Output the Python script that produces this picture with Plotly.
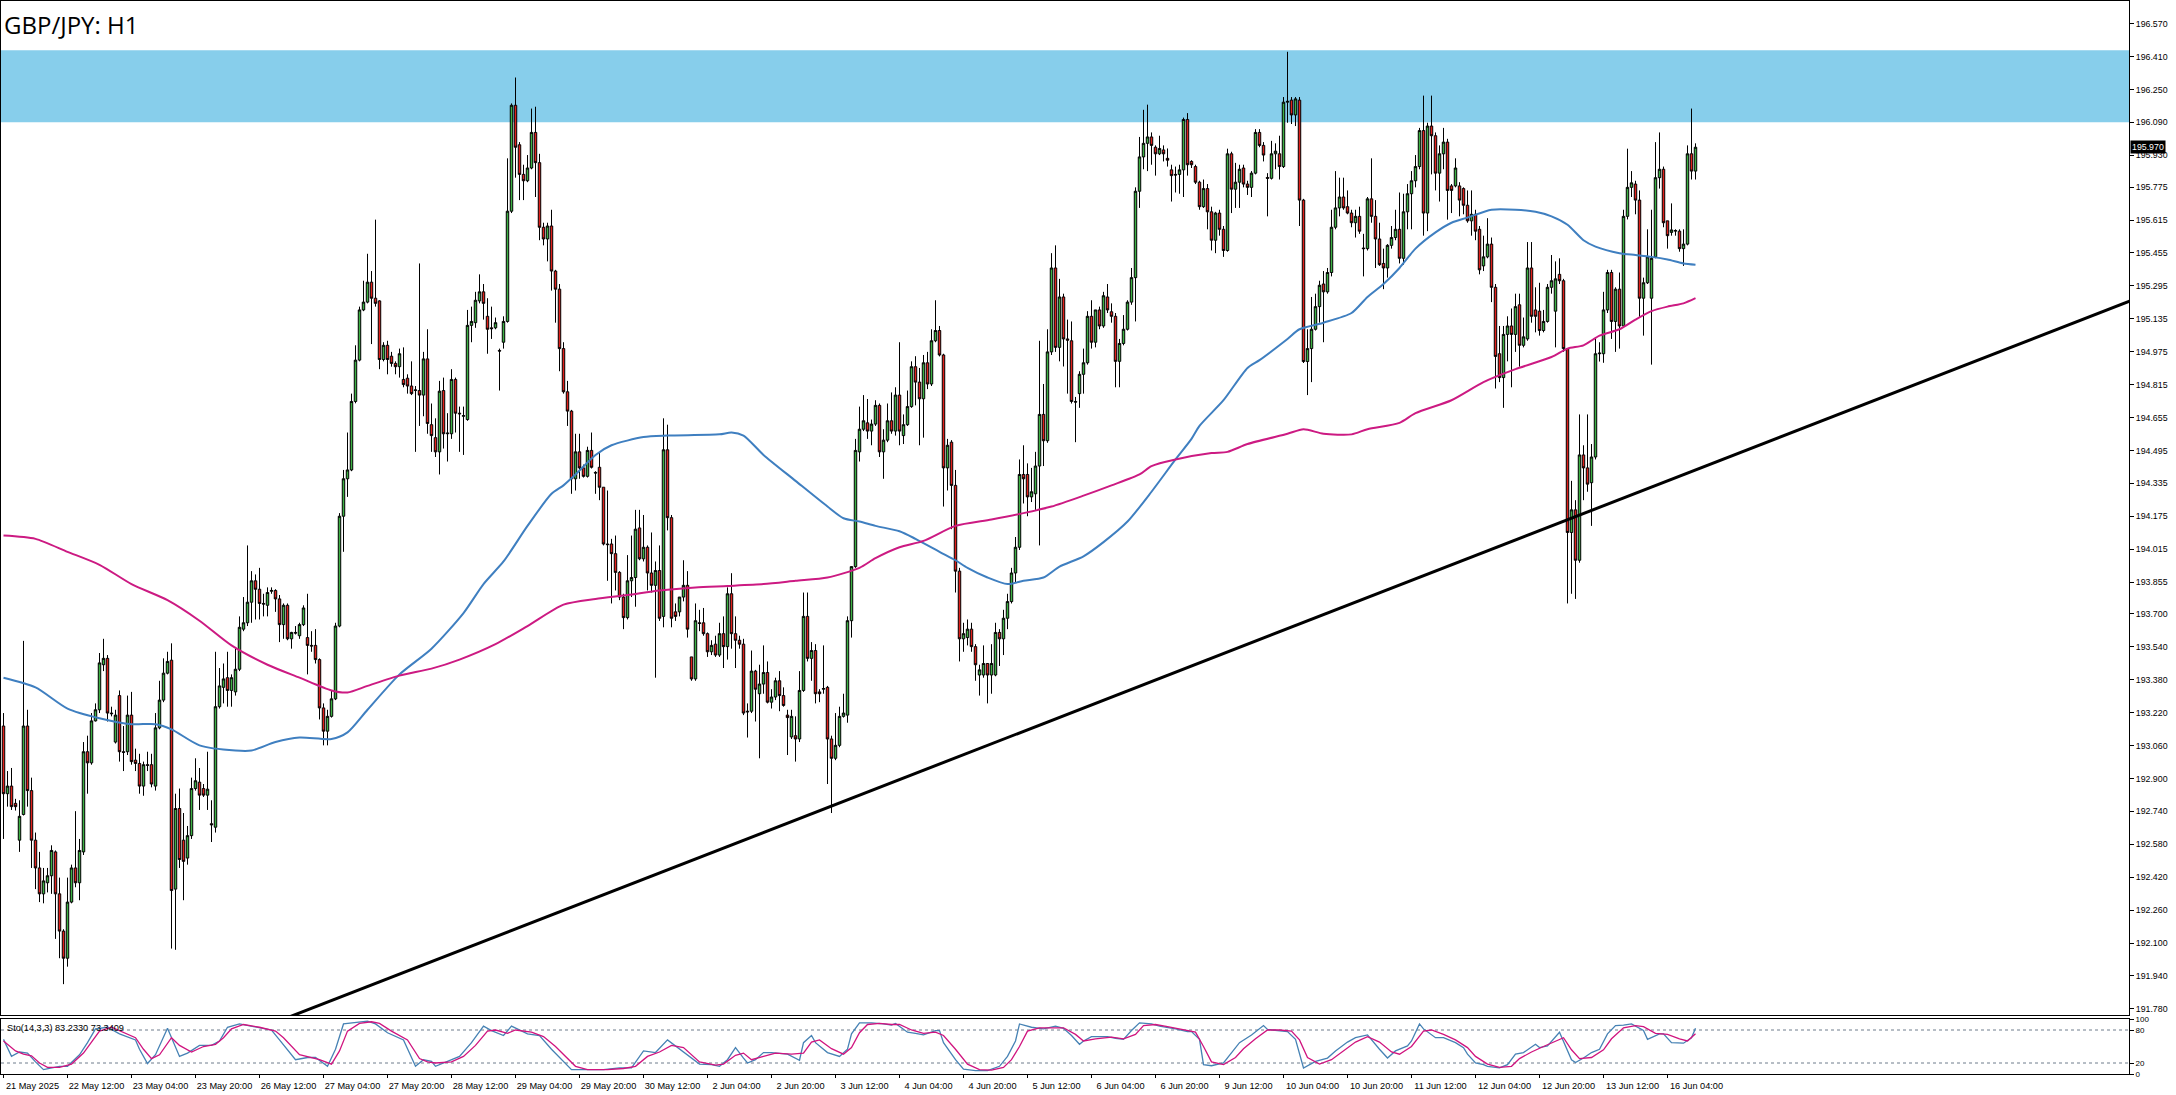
import plotly.graph_objects as go

# ---------------- DATA (GBP/JPY H1, bar index 0 = 21 May 2025 20:00) ----------------
open_prices = [
    193.155, 192.826, 192.863, 192.779, 192.600, 192.725, 193.155, 192.841, 192.600, 192.465,
    192.339, 192.393, 192.427, 192.543, 192.339, 192.158, 192.026, 192.299, 192.465, 192.393,
    192.543, 193.030, 192.976, 193.180, 193.234, 193.453, 193.484, 193.218, 193.077, 193.303,
    193.030, 193.030, 193.208, 192.989, 192.973, 192.863, 192.967, 192.967, 192.863, 193.146,
    193.281, 193.412, 193.475, 192.362, 192.754, 192.600, 192.513, 192.622, 192.851, 192.882,
    192.851, 192.819, 192.680, 192.663, 193.249, 193.343, 193.390, 193.328, 193.321, 193.431,
    193.626, 193.657, 193.757, 193.861, 193.820, 193.751, 193.742, 193.810, 193.814, 193.773,
    193.648, 193.742, 193.579, 193.610, 193.594, 193.648, 193.585, 193.547, 193.547, 193.478,
    193.243, 193.130, 193.202, 193.287, 193.641, 194.175, 194.357, 194.400, 194.733, 194.934,
    195.178, 195.216, 195.313, 195.235, 195.222, 194.937, 195.006, 194.953, 194.918, 194.902,
    194.840, 194.846, 194.808, 194.786, 194.786, 194.764, 194.940,
    194.620, 194.557, 194.488, 194.786, 194.576, 194.576, 194.840, 194.676, 194.661, 194.645,
    195.103, 195.116, 195.222, 195.266, 195.147, 195.091, 195.091, 194.981, 195.021, 195.122,
    195.658, 196.173, 195.981, 195.837, 195.806, 195.868, 196.041, 195.894, 195.580, 195.523,
    195.586, 195.367, 195.279, 194.990, 194.780, 194.686, 194.357, 194.488, 194.410, 194.369,
    194.495, 194.388, 194.413, 194.316, 194.040, 194.040, 193.993, 193.902, 193.782, 193.682,
    193.861, 193.877, 194.118, 193.968, 194.024, 193.899, 193.839, 193.911, 193.688, 194.498,
    194.168, 193.710, 193.710, 193.782, 193.839, 193.491, 193.384, 193.657, 193.657, 193.604,
    193.516, 193.553, 193.500, 193.604, 193.541, 193.798, 193.604, 193.572, 193.553, 193.227,
    193.227, 193.422, 193.312, 193.359, 193.415, 193.271, 193.296, 193.375, 193.303, 193.208,
    193.102, 193.108, 193.092, 193.328, 193.688, 193.484, 193.522, 193.321, 193.334, 193.343,
    193.092, 192.998, 193.061, 193.202, 193.208, 193.667, 193.930,
    194.488, 194.598, 194.629, 194.589, 194.623, 194.714, 194.488, 194.545, 194.639, 194.589,
    194.764, 194.567, 194.620, 194.708, 194.902, 194.827, 194.746, 194.921, 194.818, 195.028,
    195.078, 194.959, 194.410, 194.535, 194.325, 193.908, 193.579, 193.585, 193.626, 193.541,
    193.403, 193.403, 193.459, 193.403, 193.403, 193.610, 193.579, 193.679, 193.760, 193.899,
    194.024, 194.378, 194.378, 194.269, 194.284, 194.419, 194.670, 194.542, 194.974, 195.382,
    194.996, 195.241, 195.037, 195.028, 194.733, 194.771, 194.865, 194.921, 195.147, 195.021,
    195.178, 195.100, 195.241, 195.169, 195.147, 194.928, 195.015, 195.084, 195.216, 195.335,
    195.755, 195.922, 195.988, 196.019, 195.969, 195.937, 195.956, 195.915, 195.859, 195.837,
    195.837, 195.859, 196.104, 195.900, 195.875, 195.799, 195.680, 195.768, 195.655, 195.517,
    195.649, 195.570, 195.467, 195.937, 195.765, 195.799, 195.868, 195.790, 195.774, 195.843,
    196.041, 195.978, 195.822, 195.818, 195.937, 195.937, 195.875,
    196.188, 196.198, 196.126, 196.198, 195.712, 194.927, 194.990, 195.084, 195.194, 195.304,
    195.266, 195.360, 195.580, 195.674, 195.727, 195.680, 195.649, 195.602, 195.633, 195.479,
    195.476, 195.718, 195.633, 195.523, 195.404, 195.382, 195.492, 195.530, 195.570, 195.429,
    195.655, 195.743, 195.806, 195.875, 196.050, 195.649, 196.072, 196.025, 195.843, 195.937,
    195.994, 195.781, 195.781, 195.781, 195.768, 195.687, 195.611, 195.643, 195.570, 195.392,
    195.436, 195.498, 195.288, 194.965, 194.849, 195.059, 195.100, 195.059, 195.203, 195.006,
    195.037, 195.382, 195.178, 195.172, 195.078, 195.122, 195.288, 195.172, 195.351, 195.320,
    194.990, 194.096, 194.206, 193.961, 194.473, 194.410, 194.338, 194.463, 194.965, 194.965,
    195.178, 195.360, 195.122, 195.279, 195.100, 195.633, 195.774, 195.790, 195.712, 195.235,
    195.310, 195.235, 195.436, 195.821, 195.862, 195.611, 195.555, 195.561, 195.561, 195.476,
    195.498, 195.937, 195.853,
]

high_prices = [
    193.218, 192.936, 192.951, 192.801, 192.794, 193.569, 193.234, 192.904, 192.637, 192.543,
    192.465, 192.465, 192.575, 192.550, 192.418, 192.167, 192.418, 192.481, 192.741, 192.606,
    193.077, 193.108, 193.218, 193.265, 193.510, 193.579, 193.500, 193.249, 193.234, 193.328,
    193.155, 193.303, 193.321, 193.045, 193.020, 192.982, 193.030, 193.020, 193.218, 193.375,
    193.484, 193.516, 193.557, 192.826, 192.851, 192.732, 192.669, 192.904, 192.998, 192.951,
    192.873, 193.030, 192.794, 193.516, 193.437, 193.459, 193.516, 193.406, 193.531, 193.688,
    193.782, 194.033, 193.908, 193.892, 193.924, 193.798, 193.829, 193.829, 193.820, 193.792,
    193.751, 193.751, 193.613, 193.641, 193.657, 193.742, 193.798, 193.616, 193.626, 193.484,
    193.265, 193.234, 193.328, 193.657, 194.190, 194.400, 194.582, 194.771, 195.006, 195.194,
    195.320, 195.451, 195.367, 195.617, 195.225, 195.021, 195.028, 194.974, 194.928, 194.990,
    194.996, 194.865, 194.928, 194.808, 195.404, 194.974, 195.084,
    194.723, 194.651, 194.833, 194.849, 194.676, 194.890, 194.849, 194.708, 194.708, 195.178,
    195.194, 195.266, 195.351, 195.304, 195.235, 195.194, 195.141, 194.990, 195.147, 195.915,
    196.182, 196.308, 195.994, 195.884, 195.931, 196.157, 196.166, 195.937, 195.602, 195.602,
    195.665, 195.373, 195.304, 195.021, 194.833, 194.692, 194.576, 194.576, 194.426, 194.513,
    194.582, 194.394, 194.488, 194.316, 194.300, 194.065, 194.081, 193.908, 193.798, 193.986,
    194.081, 194.206, 194.206, 194.181, 194.033, 194.096, 193.955, 194.033, 194.651, 194.620,
    194.181, 193.751, 193.782, 193.961, 193.908, 193.491, 193.751, 193.720, 193.729, 193.610,
    193.572, 193.594, 193.657, 193.688, 193.829, 193.898, 193.688, 193.594, 193.579, 193.265,
    193.522, 193.428, 193.453, 193.547, 193.469, 193.334, 193.390, 193.422, 193.343, 193.234,
    193.234, 193.202, 193.422, 193.804, 193.804, 193.563, 193.553, 193.334, 193.547, 193.350,
    193.108, 193.218, 193.249, 193.312, 193.688, 193.930, 194.551,
    194.708, 194.764, 194.745, 194.645, 194.739, 194.723, 194.598, 194.723, 194.777, 194.802,
    195.021, 194.670, 194.786, 194.928, 194.953, 194.896, 194.959, 194.974, 195.084, 195.225,
    195.100, 194.965, 194.551, 194.545, 194.400, 193.924, 193.657, 193.673, 193.657, 193.553,
    193.453, 193.547, 193.459, 193.553, 193.657, 193.626, 193.720, 193.798, 193.924, 194.074,
    194.451, 194.520, 194.432, 194.410, 194.488, 195.028, 194.818, 195.084, 195.454, 195.492,
    195.329, 195.257, 195.131, 195.122, 194.755, 194.880, 194.990, 195.172, 195.225, 195.178,
    195.194, 195.266, 195.304, 195.210, 195.163, 195.037, 195.153, 195.225, 195.382, 195.774,
    196.019, 196.151, 196.176, 196.041, 195.978, 196.025, 195.978, 195.963, 195.884, 195.875,
    195.884, 196.113, 196.135, 195.906, 195.884, 195.806, 195.812, 195.790, 195.680, 195.655,
    195.665, 195.586, 195.962, 195.947, 195.893, 195.884, 195.884, 195.806, 195.853, 196.057,
    196.057, 195.994, 195.843, 196.000, 195.988, 196.025, 196.213,
    196.433, 196.213, 196.213, 196.213, 195.718, 195.084, 195.241, 195.257, 195.320, 195.367,
    195.382, 195.665, 195.853, 195.821, 195.821, 195.759, 195.665, 195.665, 195.680, 195.548,
    195.727, 195.915, 195.712, 195.602, 195.476, 195.498, 195.586, 195.665, 195.749, 195.743,
    195.790, 195.853, 195.931, 196.063, 196.220, 196.088, 196.220, 196.041, 195.978, 196.063,
    196.010, 195.790, 195.915, 195.799, 195.774, 195.759, 195.759, 195.665, 195.586, 195.539,
    195.624, 195.530, 195.304, 195.100, 195.100, 195.147, 195.185, 195.257, 195.257, 195.141,
    195.508, 195.508, 195.288, 195.310, 195.178, 195.304, 195.445, 195.414, 195.429, 195.329,
    194.990, 194.347, 194.253, 194.670, 194.520, 194.670, 194.526, 195.037, 195.021, 195.266,
    195.373, 195.373, 195.288, 195.360, 195.665, 195.962, 195.853, 195.806, 195.759, 195.335,
    195.570, 195.665, 195.994, 196.041, 195.875, 195.611, 195.696, 195.570, 195.570, 195.570,
    195.978, 196.157, 195.988,
]

low_prices = [
    192.606, 192.763, 192.747, 192.744, 192.543, 192.720, 192.763, 192.465, 192.362, 192.299,
    192.293, 192.346, 192.339, 192.120, 192.026, 191.900, 191.985, 192.293, 192.371, 192.308,
    192.528, 192.826, 192.967, 193.177, 193.218, 193.422, 193.177, 193.202, 193.070, 192.982,
    192.936, 193.014, 192.967, 192.936, 192.826, 192.816, 192.936, 192.857, 192.841, 193.139,
    193.271, 193.406, 192.073, 192.067, 192.465, 192.308, 192.481, 192.606, 192.841, 192.747,
    192.810, 192.747, 192.591, 192.637, 193.240, 193.265, 193.249, 193.249, 193.303, 193.422,
    193.616, 193.641, 193.657, 193.673, 193.673, 193.688, 193.688, 193.798, 193.710, 193.563,
    193.579, 193.572, 193.531, 193.600, 193.579, 193.641, 193.406, 193.516, 193.459, 193.187,
    193.061, 193.061, 193.196, 193.281, 193.635, 194.002, 194.269, 194.394, 194.724, 194.928,
    195.172, 195.210, 195.012, 195.194, 194.890, 194.928, 194.865, 194.902, 194.865, 194.849,
    194.802, 194.771, 194.764, 194.488, 194.614, 194.661, 194.576,
    194.488, 194.463, 194.378, 194.504, 194.441, 194.551, 194.582, 194.488, 194.473, 194.639,
    195.021, 195.091, 195.210, 195.131, 194.965, 195.037, 195.084, 194.786, 194.990, 195.116,
    195.649, 195.821, 195.712, 195.712, 195.799, 195.862, 195.727, 195.517, 195.492, 195.414,
    195.272, 195.116, 194.880, 194.771, 194.614, 194.284, 194.300, 194.357, 194.363, 194.363,
    194.407, 194.284, 194.253, 194.033, 193.861, 193.751, 193.814, 193.767, 193.626, 193.673,
    193.782, 193.735, 193.961, 193.955, 193.814, 193.804, 193.390, 193.666, 193.635, 194.106,
    193.635, 193.666, 193.688, 193.761, 193.585, 193.375, 193.375, 193.616, 193.594, 193.491,
    193.500, 193.491, 193.491, 193.437, 193.478, 193.531, 193.437, 193.531, 193.208, 193.099,
    193.218, 193.177, 192.998, 193.312, 193.265, 193.240, 193.281, 193.227, 193.249, 193.014,
    193.092, 192.982, 193.077, 193.321, 193.469, 193.375, 193.265, 193.271, 193.312, 192.873,
    192.732, 192.989, 193.052, 193.196, 193.171, 193.585, 193.924,
    194.441, 194.589, 194.551, 194.520, 194.614, 194.463, 194.357, 194.535, 194.576, 194.567,
    194.520, 194.526, 194.614, 194.702, 194.714, 194.520, 194.557, 194.793, 194.808, 195.021,
    194.952, 194.222, 194.300, 194.112, 193.804, 193.469, 193.516, 193.547, 193.516, 193.375,
    193.303, 193.390, 193.265, 193.312, 193.397, 193.447, 193.500, 193.626, 193.751, 193.855,
    194.011, 194.237, 194.175, 194.244, 194.206, 194.033, 194.419, 194.532, 194.959, 194.974,
    194.928, 194.903, 194.771, 194.723, 194.535, 194.702, 194.771, 194.912, 194.990, 194.996,
    195.084, 195.091, 195.163, 195.116, 194.802, 194.802, 195.006, 195.078, 195.203, 195.122,
    195.674, 195.862, 195.853, 195.884, 195.831, 195.931, 195.900, 195.875, 195.705, 195.749,
    195.743, 195.727, 195.831, 195.868, 195.790, 195.665, 195.674, 195.570, 195.467, 195.454,
    195.539, 195.436, 195.461, 195.649, 195.674, 195.674, 195.774, 195.737, 195.727, 195.837,
    195.969, 195.900, 195.633, 195.812, 195.862, 195.812, 195.868,
    196.088, 196.082, 196.072, 195.586, 194.920, 194.764, 194.827, 195.078, 195.116, 195.021,
    195.257, 195.341, 195.570, 195.633, 195.665, 195.643, 195.580, 195.530, 195.548, 195.341,
    195.467, 195.602, 195.382, 195.392, 195.279, 195.335, 195.476, 195.517, 195.404, 195.398,
    195.570, 195.570, 195.774, 195.862, 195.539, 195.561, 195.837, 195.759, 195.705, 195.862,
    195.617, 195.649, 195.774, 195.633, 195.643, 195.602, 195.539, 195.517, 195.351, 195.367,
    195.429, 195.216, 194.796, 194.827, 194.702, 194.928, 194.802, 194.974, 194.902, 194.996,
    195.028, 195.116, 195.069, 195.053, 195.069, 195.116, 195.257, 194.996, 195.304, 194.974,
    193.751, 193.798, 193.773, 193.949, 194.253, 194.294, 194.128, 194.451, 194.927, 194.921,
    195.163, 195.037, 194.974, 194.990, 195.091, 195.618, 195.727, 195.643, 195.141, 195.053,
    195.304, 194.912, 195.429, 195.768, 195.580, 195.476, 195.539, 195.539, 195.461, 195.392,
    195.492, 195.812, 195.812,
]

close_prices = [
    192.826, 192.863, 192.763, 192.763, 192.716, 193.155, 192.841, 192.600, 192.465, 192.339,
    192.402, 192.427, 192.550, 192.339, 192.158, 192.026, 192.299, 192.465, 192.393, 192.550,
    193.030, 192.976, 193.180, 193.234, 193.462, 193.484, 193.218, 193.215, 193.208, 193.030,
    193.027, 193.208, 192.982, 192.973, 192.863, 192.967, 192.964, 192.873, 193.146, 193.281,
    193.412, 193.469, 192.355, 192.754, 192.506, 192.497, 192.622, 192.851, 192.889, 192.819,
    192.819, 192.848, 192.675, 193.249, 193.350, 193.384, 193.328, 193.390, 193.431, 193.635,
    193.657, 193.757, 193.861, 193.820, 193.751, 193.748, 193.804, 193.814, 193.773, 193.648,
    193.742, 193.579, 193.610, 193.607, 193.648, 193.729, 193.547, 193.544, 193.478, 193.243,
    193.130, 193.202, 193.287, 193.641, 194.175, 194.357, 194.400, 194.733, 194.934, 195.178,
    195.216, 195.313, 195.235, 195.210, 194.937, 195.006, 194.937, 194.918, 194.902, 194.965,
    194.815, 194.808, 194.771, 194.789, 194.764, 194.940, 194.626,
    194.567, 194.488, 194.783, 194.576, 194.579, 194.840, 194.676, 194.673, 194.664, 195.103,
    195.122, 195.225, 195.266, 195.210, 195.084, 195.087, 195.116, 194.978, 195.122, 195.658,
    196.173, 195.969, 195.837, 195.806, 195.868, 196.041, 195.894, 195.580, 195.523, 195.586,
    195.367, 195.279, 194.990, 194.780, 194.686, 194.357, 194.488, 194.410, 194.369, 194.495,
    194.413, 194.385, 194.316, 194.040, 194.037, 193.993, 193.902, 193.782, 193.682, 193.861,
    193.877, 194.112, 193.968, 194.024, 193.899, 193.839, 193.911, 193.679, 194.498, 194.168,
    193.679, 193.688, 193.782, 193.839, 193.626, 193.384, 193.667, 193.654, 193.604, 193.516,
    193.547, 193.500, 193.604, 193.541, 193.798, 193.604, 193.572, 193.553, 193.218, 193.224,
    193.422, 193.334, 193.359, 193.415, 193.271, 193.296, 193.375, 193.303, 193.255, 193.196,
    193.202, 193.092, 193.328, 193.688, 193.484, 193.522, 193.312, 193.312, 193.337, 193.092,
    192.998, 193.061, 193.202, 193.218, 193.667, 193.930, 194.495,
    194.598, 194.639, 194.589, 194.623, 194.714, 194.488, 194.545, 194.639, 194.589, 194.764,
    194.589, 194.620, 194.708, 194.902, 194.827, 194.746, 194.921, 194.818, 195.028, 195.078,
    194.959, 194.410, 194.520, 194.325, 193.908, 193.579, 193.604, 193.626, 193.541, 193.453,
    193.428, 193.459, 193.403, 193.459, 193.610, 193.579, 193.679, 193.760, 193.899, 194.024,
    194.378, 194.357, 194.269, 194.294, 194.419, 194.670, 194.542, 194.974, 195.382, 194.996,
    195.241, 195.037, 195.031, 194.733, 194.730, 194.865, 194.921, 195.147, 195.021, 195.178,
    195.100, 195.247, 195.178, 195.147, 194.928, 195.015, 195.084, 195.216, 195.335, 195.755,
    195.922, 195.988, 196.019, 195.978, 195.937, 195.963, 195.937, 195.906, 195.831, 195.834,
    195.859, 196.104, 195.884, 195.884, 195.799, 195.680, 195.768, 195.655, 195.517, 195.649,
    195.570, 195.467, 195.937, 195.765, 195.799, 195.862, 195.790, 195.774, 195.843, 196.041,
    195.978, 195.931, 195.818, 195.937, 195.950, 195.875, 196.188,
    196.192, 196.126, 196.204, 195.712, 194.927, 194.990, 195.084, 195.194, 195.298, 195.266,
    195.360, 195.580, 195.674, 195.727, 195.674, 195.649, 195.602, 195.633, 195.561, 195.476,
    195.718, 195.633, 195.523, 195.398, 195.382, 195.492, 195.530, 195.570, 195.429, 195.655,
    195.743, 195.806, 195.875, 196.050, 195.649, 196.072, 196.025, 195.843, 195.937, 195.994,
    195.759, 195.759, 195.868, 195.712, 195.687, 195.611, 195.643, 195.561, 195.373, 195.436,
    195.498, 195.288, 194.952, 194.849, 195.059, 195.100, 195.059, 195.194, 195.006, 195.047,
    195.382, 195.147, 195.147, 195.078, 195.122, 195.288, 195.320, 195.329, 195.320, 194.990,
    194.096, 194.206, 193.961, 194.473, 194.410, 194.331, 194.463, 194.965, 194.968, 195.178,
    195.360, 195.122, 195.279, 195.100, 195.633, 195.774, 195.796, 195.712, 195.235, 195.310,
    195.436, 195.429, 195.821, 195.862, 195.602, 195.539, 195.567, 195.564, 195.476, 195.498,
    195.937, 195.853, 195.969,
]

# moving averages: (bar index, price)
ma_blue = [
    (0, 193.390), (8, 193.343), (16, 193.240), (24, 193.193), (32, 193.164), (38, 193.164),
    (42, 193.139), (49, 193.061), (58, 193.036), (62, 193.036), (68, 193.077), (74, 193.099),
    (82, 193.092), (86, 193.124), (91, 193.234), (99, 193.406), (107, 193.531), (115, 193.704),
    (120, 193.845), (125, 193.955), (131, 194.128), (137, 194.284), (140, 194.325), (143, 194.378),
    (148, 194.473), (152, 194.520), (160, 194.560), (166, 194.567), (179, 194.573), (182, 194.582),
    (185, 194.567), (190, 194.473), (198, 194.347), (206, 194.222), (210, 194.165), (214, 194.149),
    (218, 194.128), (224, 194.102), (228, 194.065), (234, 194.002), (238, 193.961), (241, 193.924),
    (246, 193.877), (251, 193.845), (255, 193.861), (260, 193.877), (264, 193.930), (270, 193.980),
    (275, 194.049), (281, 194.149), (287, 194.294), (293, 194.451), (297, 194.551), (299, 194.614),
    (305, 194.739), (311, 194.896), (314, 194.934), (321, 195.037), (324, 195.084), (330, 195.116),
    (337, 195.163), (341, 195.241), (345, 195.304), (349, 195.382), (353, 195.476), (358, 195.555),
    (362, 195.602), (366, 195.627), (372, 195.665), (378, 195.665), (383, 195.655), (387, 195.633),
    (391, 195.592), (395, 195.517), (398, 195.486), (404, 195.454), (408, 195.445), (412, 195.436),
    (416, 195.423), (420, 195.404), (423, 195.398),
]
ma_magenta = [
    (0, 194.081), (8, 194.065), (16, 194.002), (24, 193.939), (32, 193.845), (41, 193.767),
    (49, 193.667), (57, 193.547), (66, 193.453), (74, 193.390), (82, 193.328), (86, 193.318),
    (91, 193.350), (99, 193.400), (107, 193.434), (114, 193.478), (123, 193.553), (131, 193.641),
    (140, 193.745), (148, 193.773), (156, 193.792), (164, 193.814), (173, 193.829), (181, 193.836),
    (190, 193.845), (198, 193.861), (206, 193.877), (214, 193.924), (218, 193.971), (224, 194.024),
    (230, 194.055), (238, 194.128), (247, 194.159), (255, 194.190), (262, 194.222), (270, 194.275),
    (277, 194.325), (284, 194.378), (287, 194.419), (293, 194.451), (302, 194.482), (306, 194.488),
    (311, 194.526), (321, 194.576), (325, 194.598), (330, 194.576), (337, 194.573), (341, 194.598),
    (349, 194.629), (353, 194.676), (362, 194.739), (370, 194.827), (378, 194.890), (387, 194.949),
    (391, 194.990), (395, 195.006), (399, 195.053), (404, 195.084), (408, 195.131), (412, 195.172),
    (416, 195.194), (420, 195.210), (423, 195.235),
]

# stochastic (14,3,3): main %K and signal %D, (bar index, value)
stoch_main = [
    (0, 63), (2, 32), (4, 40), (6, 38), (8, 22), (10, 8), (14, 14), (16, 14), (19, 35), (21, 57),
    (23, 82), (26, 85), (29, 73), (33, 62), (34, 45), (36, 19), (38, 35), (41, 83), (44, 32), (46, 38),
    (49, 52), (52, 52), (54, 60), (56, 85), (59, 91), (63, 85), (67, 80), (69, 62), (73, 26), (76, 30),
    (78, 30), (81, 14), (83, 45), (85, 91), (88, 94), (91, 96), (93, 91), (96, 75), (100, 62), (103, 14),
    (105, 26), (107, 23), (108, 14), (111, 23), (114, 32), (117, 57), (120, 87), (122, 79), (125, 70),
    (127, 87), (131, 73), (134, 70), (137, 45), (142, 8), (144, 8), (150, 8), (154, 11), (157, 11),
    (160, 42), (163, 39), (166, 62), (169, 45), (174, 18), (177, 17), (179, 14), (181, 26), (183, 48),
    (185, 29), (186, 20), (188, 26), (190, 39), (192, 39), (196, 36), (199, 25), (200, 57), (202, 70),
    (203, 57), (206, 39), (209, 32), (211, 45), (212, 73), (214, 93), (217, 93), (220, 91), (222, 89),
    (223, 92), (226, 76), (228, 74), (230, 71), (233, 79), (234, 79), (235, 57), (238, 26), (240, 9),
    (243, 6), (246, 6), (249, 14), (251, 32), (253, 60), (254, 91), (257, 85), (260, 82), (263, 87),
    (265, 83), (267, 70), (269, 54), (270, 60), (272, 68), (276, 68), (278, 65), (280, 63), (282, 79),
    (284, 93), (287, 91), (289, 87), (293, 82), (296, 77), (297, 77), (299, 63), (300, 17), (302, 15),
    (305, 20), (307, 39), (309, 57), (312, 71), (315, 88), (316, 81), (319, 79), (321, 77), (323, 63),
    (325, 11), (328, 23), (331, 29), (333, 42), (336, 58), (338, 66), (341, 71), (344, 45), (346, 29),
    (348, 42), (351, 51), (352, 60), (354, 91), (355, 82), (357, 72), (358, 66), (360, 66), (363, 57),
    (365, 48), (366, 36), (368, 20), (370, 17), (371, 14), (374, 11), (376, 17), (378, 36), (380, 39),
    (383, 54), (384, 48), (386, 51), (389, 76), (390, 60), (392, 26), (393, 21), (395, 29), (397, 39),
    (399, 45), (401, 73), (403, 88), (405, 89), (407, 91), (410, 79), (411, 63), (414, 73), (415, 73),
    (417, 57), (420, 56), (422, 66), (423, 83.233),
]
stoch_signal = [
    (0, 60), (3, 42), (5, 36), (7, 33), (9, 20), (11, 12), (14, 12), (17, 18), (20, 38), (22, 58),
    (24, 78), (27, 85), (30, 76), (33, 66), (35, 45), (37, 28), (39, 35), (42, 66), (44, 52), (47, 40),
    (50, 50), (53, 54), (55, 66), (57, 82), (60, 90), (64, 85), (68, 78), (70, 66), (74, 35), (77, 30),
    (79, 26), (82, 18), (84, 42), (86, 78), (89, 92), (92, 95), (94, 92), (97, 78), (101, 62), (104, 28),
    (106, 22), (108, 20), (112, 22), (115, 32), (118, 52), (121, 78), (123, 80), (126, 74), (128, 80),
    (132, 76), (135, 68), (138, 50), (143, 14), (146, 8), (151, 8), (155, 10), (158, 14), (161, 32),
    (164, 40), (167, 52), (170, 48), (174, 22), (178, 16), (180, 18), (183, 34), (185, 38), (187, 26),
    (190, 32), (193, 38), (197, 36), (200, 38), (202, 58), (204, 62), (207, 46), (210, 36), (212, 48),
    (214, 75), (216, 90), (219, 92), (222, 90), (224, 90), (227, 80), (230, 74), (233, 76), (235, 70),
    (238, 45), (241, 18), (244, 8), (247, 7), (250, 12), (252, 26), (254, 50), (256, 78), (259, 84),
    (262, 84), (265, 84), (268, 72), (270, 60), (273, 64), (277, 67), (280, 64), (283, 72), (285, 88),
    (288, 90), (291, 86), (295, 80), (298, 76), (300, 50), (302, 22), (305, 17), (308, 30), (310, 46),
    (313, 64), (316, 80), (319, 80), (322, 78), (324, 62), (326, 30), (329, 18), (332, 26), (335, 42),
    (338, 58), (341, 68), (344, 58), (347, 40), (349, 36), (352, 50), (355, 78), (357, 80), (360, 72),
    (363, 62), (366, 48), (368, 32), (371, 18), (374, 12), (377, 14), (379, 28), (382, 40), (385, 50),
    (388, 60), (390, 66), (392, 44), (394, 28), (397, 30), (400, 44), (402, 64), (405, 84), (408, 88),
    (410, 86), (413, 74), (416, 72), (419, 64), (421, 60), (423, 73.341),
]
stoch_levels = [20, 80]

# resistance zone and trend line
zone_prices = [196.09, 196.44]
trend_bars = [60, 540]
trend_prices = [191.654, 195.285]

# axis labels
price_ticks = [196.570, 196.410, 196.250, 196.090, 195.930, 195.775, 195.615, 195.455, 195.295,
               195.135, 194.975, 194.815, 194.655, 194.495, 194.335, 194.175, 194.015, 193.855,
               193.700, 193.540, 193.380, 193.220, 193.060, 192.900, 192.740, 192.580, 192.420,
               192.260, 192.100, 191.940, 191.780]
time_tick_bars = [0, 16, 32, 48, 64, 80, 96, 112, 128, 144, 160, 176, 192, 208, 224, 240, 256,
                  272, 288, 304, 320, 336, 352, 368, 384, 400, 416]
time_tick_labels = ["21 May 2025", "22 May 12:00", "23 May 04:00", "23 May 20:00", "26 May 12:00",
                    "27 May 04:00", "27 May 20:00", "28 May 12:00", "29 May 04:00", "29 May 20:00",
                    "30 May 12:00", "2 Jun 04:00", "2 Jun 20:00", "3 Jun 12:00", "4 Jun 04:00",
                    "4 Jun 20:00", "5 Jun 12:00", "6 Jun 04:00", "6 Jun 20:00", "9 Jun 12:00",
                    "10 Jun 04:00", "10 Jun 20:00", "11 Jun 12:00", "12 Jun 04:00", "12 Jun 20:00",
                    "13 Jun 12:00", "16 Jun 04:00"]
last_price = 195.970
stoch_caption = "Sto(14,3,3) 83.2330 73.3409"
chart_title = "GBP/JPY: H1"

# ---------------- FIGURE ----------------
W, H = 2176, 1095
FONT_FAMILY = "Liberation Sans, Arial, sans-serif"
TICK_FONT = dict(family=FONT_FAMILY, size=9.2, color="black")
PRICE_FONT = dict(family=FONT_FAMILY, size=8.8, color="black")
SMALL_FONT = dict(family=FONT_FAMILY, size=8, color="black")


def fx(px):
    return px / W


def fy(py):
    return 1 - py / H


bars = list(range(len(close_prices)))

fig = go.Figure()

fig.add_trace(go.Candlestick(
    x=bars, open=open_prices, high=high_prices, low=low_prices, close=close_prices,
    increasing=dict(line=dict(color="black", width=1), fillcolor="#3cb043"),
    decreasing=dict(line=dict(color="black", width=1), fillcolor="#e0201b"),
    whiskerwidth=0, hoverinfo="skip", showlegend=False, xaxis="x", yaxis="y",
))

bx, by = zip(*ma_blue)
fig.add_trace(go.Scatter(x=bx, y=by, mode="lines", xaxis="x", yaxis="y", showlegend=False,
                         line=dict(color="#3f7fc0", width=2, shape="spline", smoothing=0.7),
                         hoverinfo="skip"))
mx, my = zip(*ma_magenta)
fig.add_trace(go.Scatter(x=mx, y=my, mode="lines", xaxis="x", yaxis="y", showlegend=False,
                         line=dict(color="#cc1a82", width=2, shape="spline", smoothing=0.7),
                         hoverinfo="skip"))
fig.add_trace(go.Scatter(x=trend_bars, y=trend_prices, mode="lines", xaxis="x", yaxis="y",
                         showlegend=False, line=dict(color="black", width=3), hoverinfo="skip"))

kx, ky = zip(*stoch_main)
fig.add_trace(go.Scatter(x=kx, y=ky, mode="lines", xaxis="x2", yaxis="y2", showlegend=False,
                         line=dict(color="#4682b4", width=1.3), hoverinfo="skip"))
dx, dy = zip(*stoch_signal)
fig.add_trace(go.Scatter(x=dx, y=dy, mode="lines", xaxis="x2", yaxis="y2", showlegend=False,
                         line=dict(color="#d0147f", width=1.3), hoverinfo="skip"))

x_dom = [fx(1), fx(2129)]
x_rng = [-0.625, 531.375]

shapes = [dict(type="rect", xref="x domain", yref="y", x0=0, x1=1,
               y0=zone_prices[0], y1=zone_prices[1], fillcolor="#87ceeb",
               line=dict(width=0), layer="below")]
for lv in stoch_levels:
    shapes.append(dict(type="line", xref="x2 domain", yref="y2", x0=0, x1=1, y0=lv, y1=lv,
                       line=dict(color="#6f7d8c", width=1, dash="3px,3px"), layer="below"))

annotations = [
    dict(text=chart_title, xref="paper", yref="paper", x=fx(2), y=fy(25), xanchor="left",
         yanchor="middle", showarrow=False,
         font=dict(family="Open Sans, Noto Sans, sans-serif", size=24, color="black")),
    dict(text=stoch_caption, xref="paper", yref="paper", x=fx(5), y=fy(1028), xanchor="left",
         yanchor="middle", showarrow=False, font=TICK_FONT),
    dict(text="%.3f" % last_price, xref="paper", yref="y", x=fx(2130), y=last_price,
         xanchor="left", yanchor="middle", showarrow=False, bgcolor="black", borderpad=1,
         font=dict(family=FONT_FAMILY, size=8.8, color="white")),
]

axis_common = dict(showline=True, mirror=True, linecolor="black", linewidth=1,
                   showgrid=False, zeroline=False, automargin=False, fixedrange=True)

fig.update_layout(
    width=W, height=H, margin=dict(l=0, r=0, t=0, b=0),
    paper_bgcolor="white", plot_bgcolor="white", showlegend=False, boxgap=0.12,
    xaxis=dict(domain=x_dom, range=x_rng, anchor="y", showticklabels=False, ticks="",
               rangeslider=dict(visible=False), **axis_common),
    yaxis=dict(domain=[fy(1015), fy(1)], range=[191.75, 196.68], anchor="x", side="right",
               tickvals=price_ticks, ticktext=["%.3f" % v for v in price_ticks],
               ticks="outside", ticklen=4, tickcolor="black", tickfont=PRICE_FONT, **axis_common),
    xaxis2=dict(domain=x_dom, range=x_rng, anchor="y2", matches="x",
                tickvals=time_tick_bars, ticktext=time_tick_labels, ticks="outside", ticklen=3,
                tickcolor="black", tickfont=TICK_FONT, ticklabelshift=29, **axis_common),
    yaxis2=dict(domain=[fy(1074), fy(1019)], range=[0, 100], anchor="x2", side="right",
                tickvals=[100, 80, 20, 0], ticktext=["100", "80", "20", "0"],
                ticks="outside", ticklen=4, tickcolor="black", tickfont=SMALL_FONT,
                **axis_common),
    shapes=shapes, annotations=annotations,
)

# remove the default page margin so the figure sits at the window's top-left corner
fig.write_html("out.html", config={"displayModeBar": False},
               post_script="document.body.style.margin='0px';document.body.style.overflow='hidden';")
